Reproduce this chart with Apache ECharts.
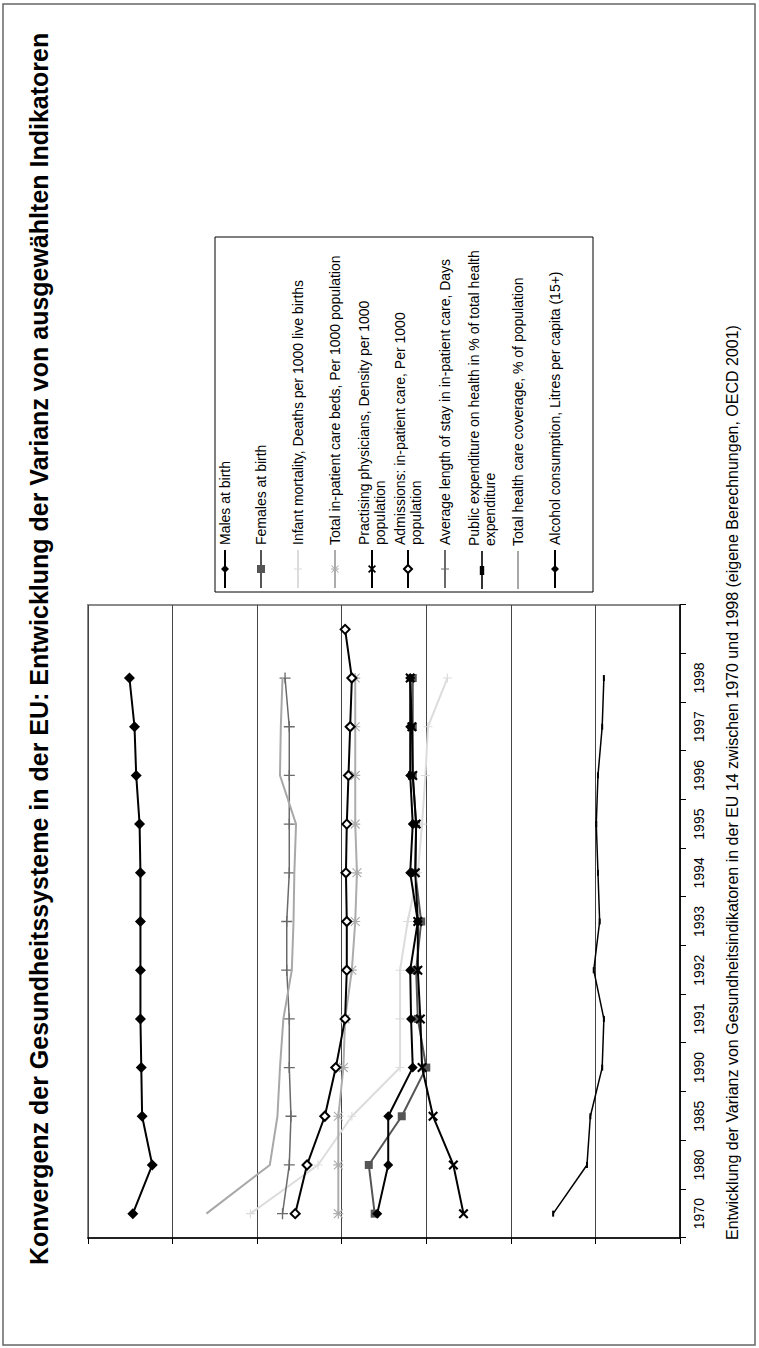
<!DOCTYPE html>
<html>
<head>
<meta charset="utf-8">
<script src="https://cdn.jsdelivr.net/npm/echarts@6/dist/echarts.min.js"></script>
<style>
html,body{margin:0;padding:0;overflow:hidden;background:#fff;width:759px;height:1348px;}
#wrap{position:absolute;left:0;top:0;width:1348px;height:759px;transform-origin:0 0;transform:translate(0,1348px) rotate(-90deg);}
</style>
</head>
<body>
<div id="wrap"></div>
<script>
const titleText = 'Konvergenz der Gesundheitssysteme in der EU: Entwicklung der Varianz von ausgewählten Indikatoren';
const captionText = 'Entwicklung der Varianz von Gesundheitsindikatoren in der EU 14 zwischen 1970 und 1998 (eigene Berechnungen, OECD 2001)';
const years = ['1970','1980','1985','1990','1991','1992','1993','1994','1995','1996','1997','1998',''];
const seriesNames = [
  'Males at birth',
  'Females at birth',
  'Infant mortality, Deaths per 1000 live births',
  'Total in-patient care beds, Per 1000 population',
  'Practising physicians, Density per 1000 population',
  'Admissions: in-patient care, Per 1000 population',
  'Average length of stay in in-patient care, Days',
  'Public expenditure on health in % of total health expenditure',
  'Total health care coverage, % of population',
  'Alcohol consumption, Litres per capita (15+)'
];
const legendLabels = [
  'Males at birth',
  'Females at birth',
  'Infant mortality, Deaths per 1000 live births',
  'Total in-patient care beds, Per 1000 population',
  'Practising physicians, Density per 1000\npopulation',
  'Admissions: in-patient care, Per 1000\npopulation',
  'Average length of stay in in-patient care, Days',
  'Public expenditure on health in % of total health\nexpenditure',
  'Total health care coverage, % of population',
  'Alcohol consumption, Litres per capita (15+)'
];
const males      = [0.647,0.624,0.636,0.637,0.638,0.638,0.638,0.638,0.639,0.643,0.645,0.651,null];
const females    = [0.361,0.368,0.329,0.300,0.310,0.312,0.306,0.313,0.312,0.316,0.316,0.316,null];
const infant     = [0.508,0.428,0.388,0.331,0.331,0.331,0.322,0.310,0.305,0.301,0.298,0.275,null];
const beds       = [0.404,0.404,0.404,0.398,0.396,0.388,0.384,0.382,0.384,0.384,0.384,0.384,null];
const physicians = [0.256,0.268,0.292,0.305,0.307,0.310,0.310,0.313,0.312,0.316,0.317,0.319,null];
const admissions = [0.455,0.441,0.420,0.407,0.396,0.394,0.394,0.395,0.394,0.392,0.390,0.388,0.396];
const stay       = [0.470,0.462,0.460,0.462,0.462,0.465,0.465,0.462,0.462,0.462,0.462,0.467,null];
const publicExp  = [0.150,0.110,0.106,0.092,0.090,0.102,0.095,0.097,0.099,0.097,0.092,0.090,null];
const coverage   = [0.560,0.485,0.476,0.473,0.469,0.459,0.457,0.456,0.454,0.473,0.472,0.470,null];
const alcohol    = [0.358,0.345,0.345,0.316,0.318,0.319,0.310,0.319,0.316,0.319,0.319,0.319,null];
const valueMin = 0, valueMax = 0.7, valueStep = 0.1;

const PLUS = 'path://M4.4,0h1.2v10h-1.2z M0,4.4h10v1.2h-10z';
const XCROSS = 'path://M1.5,0L5,3.5L8.5,0L10,1.5L6.5,5L10,8.5L8.5,10L5,6.5L1.5,10L0,8.5L3.5,5L0,1.5Z';
const STAR = 'path://M4.4,0h1.2v10h-1.2z M0,4.4h10v1.2h-10z M1,0.2L5,4.2L9,0.2L9.8,1L5.8,5L9.8,9L9,9.8L5,5.8L1,9.8L0.2,9L4.2,5L0.2,1Z';

const dataList = [males, females, infant, beds, physicians, admissions, stay, publicExp, coverage, alcohol];
const styles = [
  {color:'#000', symbol:'diamond', size:11, width:2},
  {color:'#555', symbol:'rect', size:8, width:2},
  {color:'#dcdcdc', symbol:PLUS, size:9, width:2},
  {color:'#acacac', symbol:STAR, size:10, width:2},
  {color:'#000', symbol:XCROSS, size:10, width:2},
  {color:'#000', symbol:'emptyDiamond', size:9, width:2},
  {color:'#6a6a6a', symbol:PLUS, size:11, width:1.5},
  {color:'#000', symbol:'rect', size:[6,2], width:1.5},
  {color:'#a8a8a8', symbol:'none', size:0, width:2},
  {color:'#000', symbol:'diamond', size:10, width:2}
];
const legendIcons = [null,null,null,null,null,null,null,
  'path://M0,3.2h38v1.6h-38z M14,1.8h9v4.4h-9z',
  'path://M0,0h38v2h-38z',
  null];

const series = seriesNames.map((n,i)=>({
  name:n, type:'line', data:dataList[i], connectNulls:false,
  symbol:styles[i].symbol, symbolSize:styles[i].size, showSymbol: styles[i].symbol!=='none',
  lineStyle:{color:styles[i].color, width:styles[i].width},
  itemStyle:{color:styles[i].color, borderWidth: styles[i].symbol==='emptyDiamond'?2:0},
  animation:false, z: 2+i
}));

const legendY = [225,261,298,335,372,408,445,482,518,555];
const legends = seriesNames.map((n,i)=>{
  const multi = legendLabels[i].indexOf('\n')>=0;
  const item = legendIcons[i] ? {name:n, icon:legendIcons[i]} : {name:n};
  return {
    data:[item], left:759, top: legendY[i] - (multi?24:8), padding:0,
    itemWidth:38, itemHeight:10, selectedMode:false,
    formatter: ()=>legendLabels[i],
    textStyle:{fontFamily:'Liberation Sans, Arial, sans-serif', fontSize:14, color:'#000', lineHeight:16, padding: multi?[16,0,0,0]:0}
  };
});

const chart = echarts.init(document.getElementById('wrap'), null, {renderer:'svg', width:1348, height:759});
chart.setOption({
  animation:false,
  backgroundColor:'#fff',
  title:[
    {text:titleText, left:83, top:26, padding:0, textStyle:{fontFamily:'Liberation Sans, Arial, sans-serif', fontSize:25, fontWeight:'bold', color:'#000'}},
    {text:captionText, left:108, top:724, padding:0, textStyle:{fontFamily:'Liberation Sans, Arial, sans-serif', fontSize:16, fontWeight:'normal', color:'#000'}}
  ],
  legend: legends,
  grid:{left:110, right:605, top:88, bottom:79, show:true, borderColor:'#8a8a8a', borderWidth:2, backgroundColor:'#fff'},
  xAxis:{
    type:'category', data:years, boundaryGap:true,
    axisLine:{show:true, lineStyle:{color:'#000', width:1.5}},
    axisTick:{show:true, interval:0, length:6, lineStyle:{color:'#000'}},
    axisLabel:{interval:0, fontFamily:'Liberation Sans, Arial, sans-serif', fontSize:14, color:'#000', margin:12},
    splitLine:{show:false}
  },
  yAxis:{
    type:'value', min:valueMin, max:valueMax, interval:valueStep,
    axisLine:{show:true, lineStyle:{color:'#000', width:1.5}},
    axisTick:{show:true, length:6, lineStyle:{color:'#000'}},
    axisLabel:{show:false},
    splitLine:{show:true, lineStyle:{color:'#444', width:1}}
  },
  graphic:[
    {type:'rect', shape:{x:3, y:3, width:1341, height:752}, style:{fill:'none', stroke:'#666', lineWidth:1.5}, silent:true, z:-1},
    {type:'rect', shape:{x:756, y:215, width:355, height:378}, style:{fill:'none', stroke:'#000', lineWidth:1}, silent:true}
  ],
  series: series
});
</script>
</body>
</html>
